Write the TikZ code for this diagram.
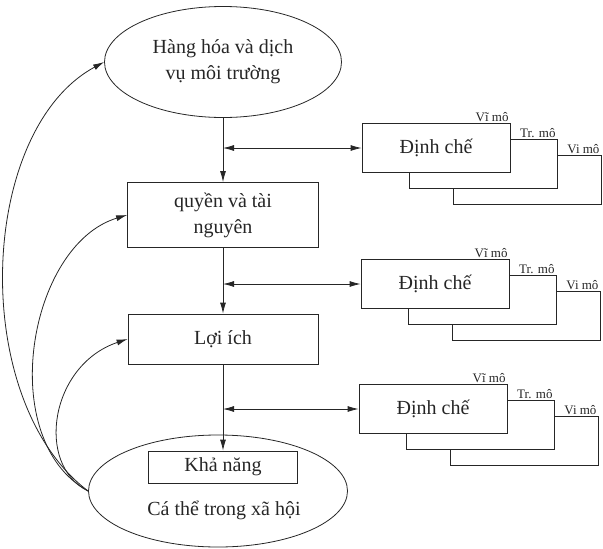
\documentclass[tikz,border=0pt]{standalone}
\usepackage{fontspec}
\setmainfont{Liberation Serif}
\usetikzlibrary{arrows.meta,positioning,shapes.geometric}
\newcommand{\mainfs}{\fontsize{20}{26}\selectfont}
\newcommand{\tagfs}{\fontsize{13}{15}\selectfont}

\begin{document}
\begin{tikzpicture}[x=1pt,y=-1pt,line width=0.8pt,color=black!85,
    >={Latex[length=11pt,width=6pt]},
    blob/.style={ellipse,draw,align=center,font=\mainfs,inner sep=0pt},
    box/.style={rectangle,draw,fill=white,align=center,font=\mainfs,inner sep=0pt},
    inst/.style={box,minimum width=148pt,minimum height=49pt},
    tag/.style={font=\tagfs,anchor=south east,inner sep=1.5pt}]
    \useasboundingbox (0,0) rectangle (603,549);

    % Main column
    \node[blob,minimum width=237pt,minimum height=111pt] (goods) at (223,62) {Hàng hóa và dịch\\vụ môi trường};
    \node[box,minimum width=191pt,minimum height=65pt] (rights) at (223,215) {quyền và tài\\nguyên};
    \node[box,minimum width=190pt,minimum height=50pt] (benefit) at (223,339) {Lợi ích};
    \node[blob,minimum width=259pt,minimum height=112pt] (person) at (218,491) {};
    \node[box,minimum width=149pt,minimum height=32pt] (ability) at (223,467) {Khả năng};
    \node[font=\mainfs] (personlbl) at (224,510) {Cá thể trong xã hội};

    \draw[->] (goods.south) -- (rights.north);
    \draw[->] (rights.south) -- (benefit.north);
    \draw[->] (benefit.south) -- (ability.north);

    % Institutions, top
    \node[inst] (inst1c) at (527,180) {};
    \node[inst] (inst1b) at (483,164) {};
    \node[inst] (inst1) at (436,148) {Định chế};
    \node[tag] (tag1a) at (inst1.north east) {Vĩ mô};
    \node[tag] (tag1b) at (inst1b.north east) {Tr. mô};
    \node[tag] (tag1c) at (inst1c.north east) {Vi mô};
    \coordinate (j1) at (223,148);
    \draw[<->] (j1) -- (inst1.west);

    % Institutions, middle
    \node[inst] (inst2c) at (526,316) {};
    \node[inst] (inst2b) at (482,300) {};
    \node[inst] (inst2) at (435,284) {Định chế};
    \node[tag] (tag2a) at (inst2.north east) {Vĩ mô};
    \node[tag] (tag2b) at (inst2b.north east) {Tr. mô};
    \node[tag] (tag2c) at (inst2c.north east) {Vi mô};
    \coordinate (j2) at (223,284);
    \draw[<->] (j2) -- (inst2.west);

    % Institutions, bottom
    \node[inst] (inst3c) at (524,441) {};
    \node[inst] (inst3b) at (480,425) {};
    \node[inst] (inst3) at (433,409) {Định chế};
    \node[tag] (tag3a) at (inst3.north east) {Vĩ mô};
    \node[tag] (tag3b) at (inst3b.north east) {Tr. mô};
    \node[tag] (tag3c) at (inst3c.north east) {Vi mô};
    \coordinate (j3) at (223,409);
    \draw[<->] (j3) -- (inst3.west);

    % Feedback from the individual
    \draw[->] (person.west) .. controls (-32,400) and (-22,130) .. (goods.west);
    \draw[->] (person.west) .. controls (-5,440) and (28,245) .. (rights.west);
    \draw[->] (person.west) .. controls (35,465) and (50,365) .. (benefit.west);
\end{tikzpicture}
\end{document}
